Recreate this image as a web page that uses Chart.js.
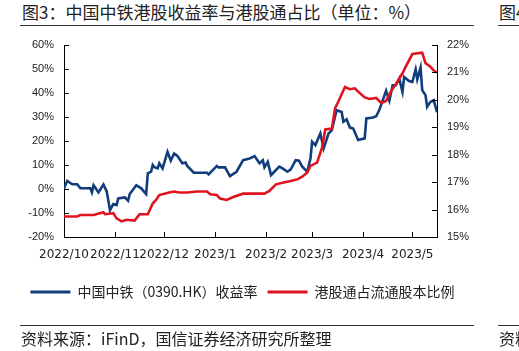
<!DOCTYPE html>
<html><head><meta charset="utf-8">
<script src="https://cdn.jsdelivr.net/npm/chart.js@4/dist/chart.umd.min.js"></script>
<style>
html,body{margin:0;padding:0;background:#fff;}
#wrap{position:relative;width:519px;height:351px;overflow:hidden;font-family:"Noto Sans CJK SC",sans-serif;color:#222;}
#c{position:absolute;left:0;top:0;width:519px;height:351px;}
.t{position:absolute;white-space:nowrap;line-height:1;}
.rule{position:absolute;height:1px;background:#333;}
</style></head>
<body><div id="wrap">
<div class="t" style="left:22px;top:3px;font-size:17px">图3：中国中铁港股收益率与港股通占比（单位：%）</div>
<div class="rule" style="left:20px;top:25px;width:454px"></div>
<div class="t" style="left:499px;top:3px;font-size:17px">图4</div>
<div class="rule" style="left:498px;top:25px;width:21px"></div>
<canvas id="c" width="519" height="351"></canvas>
<div class="rule" style="left:20px;top:325px;width:454px"></div>
<div class="t" style="left:21px;top:330px;font-size:16px">资料来源：iFinD，国信证券经济研究所整理</div>
<div class="rule" style="left:498px;top:325px;width:21px"></div>
<div class="t" style="left:499px;top:330px;font-size:16px">资料</div>
</div>
<script>
// x values: days since 2022-10-01
const monthDays = [0, 31, 61, 92, 123, 151, 182, 212];
const monthLabels = ['2022/10', '2022/11', '2022/12', '2023/1', '2023/2', '2023/3', '2023/4', '2023/5'];
const leftTicks = [-20, -10, 0, 10, 20, 30, 40, 50, 60];
const rightTicks = [15, 16, 17, 18, 19, 20, 21, 22];

const returnLabel = '中国中铁（0390.HK）收益率';
const returnDays = [0,2,5,8,10,16,17,18,21,24,26,28,30,32,33,37,39,40,44,47,50,51,53,54,55,57,58,60,63,65,67,69,72,74,75,79,83,87,88,93,94,98,101,105,109,113,116,119,121,122,124,126,128,131,133,136,138,141,143,145,148,150,151,153,156,158,161,163,165,166,169,170,172,174,176,179,183,184,188,190,192,196,198,200,202,204,206,207,210,212,214,215,217,218,220,221,223,225,227];
const returnValues = [0.3,3.4,2.0,2.0,0.3,0.3,-1.4,1.6,-1.4,1.9,-1.0,-8.8,-6.3,-6.7,-3.9,-3.5,-4.9,-2.1,1.6,0.3,-2.1,6.5,7.2,10.0,9.1,8.6,10.7,8.6,15.5,11.8,14.8,13.8,10.7,11.0,9.6,6.8,6.8,6.8,6.1,9.6,9.0,9.0,5.4,7.2,12.0,12.7,13.7,10.7,12.0,9.0,11.3,5.8,7.2,9.3,8.6,7.2,8.2,12.0,11.8,9.3,7.2,12.7,19.7,18.3,23.1,16.9,23.1,24.5,30.3,32.8,32.1,28.0,29.0,25.6,25.2,20.4,21.1,29.4,29.8,30.3,33.1,40.9,36.8,43.2,43.2,46.0,40.5,46.7,45.0,44.6,49.8,45.7,50.6,41.2,39.1,34.2,36.3,37.0,32.0];

const shareLabel = '港股通占流通股本比例';
const shareDays = [0,8,10,18,24,25,30,32,35,38,43,46,51,54,56,58,64,67,70,75,81,87,89,93,95,99,103,109,119,122,125,129,133,138,142,145,148,150,154,157,159,163,165,167,171,174,177,179,183,186,190,193,196,199,203,206,208,212,218,220,223,225,227];
const shareValues = [15.75,15.75,15.8,15.8,15.9,15.83,15.87,15.68,15.57,15.63,15.6,15.83,15.83,16.22,16.35,16.53,16.62,16.66,16.62,16.62,16.66,16.66,16.56,16.53,16.4,16.35,16.46,16.58,16.58,16.58,16.68,16.92,16.98,17.04,17.1,17.2,17.35,17.59,17.71,18.25,18.92,18.95,19.7,19.94,20.47,20.39,20.42,20.3,20.09,20.03,20.07,19.89,19.96,20.31,20.67,20.97,21.21,21.67,21.72,21.34,21.21,21.07,21.0];

const BLUE = '#123d7d';
const RED = '#e0141e';

const inwardTicks = {
  id: 'inwardTicks',
  afterDatasetsDraw(chart) {
    const {ctx, chartArea: a, scales} = chart;
    ctx.save();
    ctx.strokeStyle = '#000';
    ctx.lineWidth = 1;
    ctx.beginPath();
    scales.y.ticks.forEach(t => { const p = Math.round(scales.y.getPixelForValue(t.value)) + 0.5; ctx.moveTo(a.left, p); ctx.lineTo(a.left + 5, p); });
    scales.y1.ticks.forEach(t => { const p = Math.round(scales.y1.getPixelForValue(t.value)) + 0.5; ctx.moveTo(a.right, p); ctx.lineTo(a.right - 5, p); });
    scales.x.ticks.forEach(t => { const p = Math.round(scales.x.getPixelForValue(t.value)) + 0.5; ctx.moveTo(p, a.bottom); ctx.lineTo(p, a.bottom - 5); });
    ctx.stroke();
    ctx.restore();
  }
};

new Chart(document.getElementById('c'), {
  type: 'line',
  data: {
    datasets: [
      { label: returnLabel, data: returnDays.map((d, i) => ({x: d, y: returnValues[i]})), yAxisID: 'y',
        borderColor: BLUE, backgroundColor: BLUE, borderWidth: 2.6, pointRadius: 0, tension: 0, order: 1 },
      { label: shareLabel, data: shareDays.map((d, i) => ({x: d, y: shareValues[i]})), yAxisID: 'y1',
        borderColor: RED, backgroundColor: RED, borderWidth: 2.6, pointRadius: 0, tension: 0, order: 0 }
    ]
  },
  plugins: [inwardTicks],
  options: {
    responsive: false,
    animation: false,
    events: [],
    layout: { padding: { left: 0, right: 34, top: 45, bottom: 42 } },
    plugins: {
      tooltip: { enabled: false },
      legend: {
        position: 'bottom',
        labels: {
          boxWidth: 40, boxHeight: 3, padding: 10, color: '#222',
          font: { family: '"Noto Sans CJK SC"', size: 14 },
          sort: (a, b) => a.datasetIndex - b.datasetIndex,
          generateLabels: (chart) => chart.data.datasets.map((ds, i) => ({
            text: ds.label, fillStyle: ds.borderColor, strokeStyle: ds.borderColor, lineWidth: 0,
            hidden: false, datasetIndex: i, fontColor: '#222'
          }))
        }
      }
    },
    scales: {
      x: {
        type: 'linear', min: 0, max: 227,
        afterBuildTicks: (s) => { s.ticks = monthDays.map(v => ({value: v})); },
        afterFit: (s) => { s.height = 38; },
        grid: { display: false, drawTicks: false },
        border: { display: true, color: '#000', width: 1 },
        ticks: {
          autoSkip: false, maxRotation: 0, minRotation: 0, padding: 11, color: '#222',
          font: { family: '"DejaVu Sans"', size: 12 },
          callback: (v) => { const i = monthDays.indexOf(v); return i >= 0 ? monthLabels[i] : ''; }
        }
      },
      y: {
        position: 'left', min: -20, max: 60,
        afterBuildTicks: (s) => { s.ticks = leftTicks.map(v => ({value: v})); },
        afterFit: (s) => { s.width = 64; },
        grid: { display: false, drawTicks: false },
        border: { display: true, color: '#000', width: 1 },
        ticks: { padding: 10, color: '#222', font: { family: '"Liberation Sans"', size: 11 }, callback: (v) => v + '%' }
      },
      y1: {
        position: 'right', min: 15, max: 22,
        afterBuildTicks: (s) => { s.ticks = rightTicks.map(v => ({value: v})); },
        afterFit: (s) => { s.width = 48; },
        grid: { display: false, drawTicks: false },
        border: { display: true, color: '#000', width: 1 },
        ticks: { padding: 10, color: '#222', font: { family: '"Liberation Sans"', size: 11 }, callback: (v) => v + '%' }
      }
    }
  }
});
</script>
</body></html>
